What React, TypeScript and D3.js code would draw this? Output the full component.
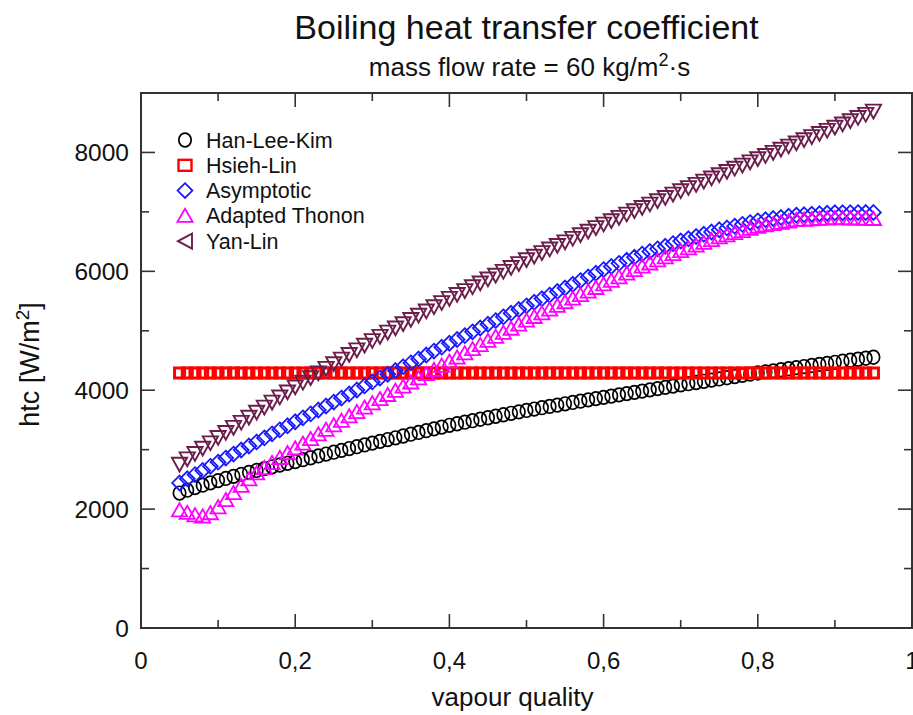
import * as d3 from "d3";

// vapour quality grid (x)
const quality = [
  0.05, 0.06, 0.07, 0.08, 0.09, 0.1, 0.11, 0.12, 0.13, 0.14, 0.15, 0.16, 0.17, 0.18, 0.19,
  0.2, 0.21, 0.22, 0.23, 0.24, 0.25, 0.26, 0.27, 0.28, 0.29, 0.3, 0.31, 0.32, 0.33, 0.34,
  0.35, 0.36, 0.37, 0.38, 0.39, 0.4, 0.41, 0.42, 0.43, 0.44, 0.45, 0.46, 0.47, 0.48, 0.49,
  0.5, 0.51, 0.52, 0.53, 0.54, 0.55, 0.56, 0.57, 0.58, 0.59, 0.6, 0.61, 0.62, 0.63, 0.64,
  0.65, 0.66, 0.67, 0.68, 0.69, 0.7, 0.71, 0.72, 0.73, 0.74, 0.75, 0.76, 0.77, 0.78, 0.79,
  0.8, 0.81, 0.82, 0.83, 0.84, 0.85, 0.86, 0.87, 0.88, 0.89, 0.9, 0.91, 0.92, 0.93, 0.94, 0.95,
];

const hanLeeKim = [
  2270, 2318, 2362, 2403, 2442, 2480, 2516, 2551, 2585, 2618, 2650, 2681, 2712, 2742, 2771,
  2800, 2832, 2864, 2895, 2926, 2957, 2988, 3019, 3050, 3080, 3110, 3140, 3170, 3200, 3230,
  3260, 3290, 3320, 3350, 3380, 3410, 3436, 3462, 3487, 3512, 3537, 3562, 3587, 3612, 3636,
  3660, 3683, 3706, 3728, 3750, 3772, 3794, 3816, 3838, 3859, 3880, 3901, 3922, 3943, 3964,
  3985, 4006, 4027, 4048, 4069, 4090, 4110, 4130, 4150, 4170, 4190, 4210, 4230, 4250, 4270,
  4290, 4308, 4326, 4344, 4362, 4380, 4398, 4416, 4434, 4452, 4470, 4487, 4504, 4521, 4538, 4555,
];

const hsiehLin = [
  4290, 4290, 4290, 4290, 4290, 4290, 4290, 4290, 4290, 4290, 4290, 4290, 4290, 4290, 4290,
  4290, 4290, 4290, 4290, 4290, 4290, 4290, 4290, 4290, 4290, 4290, 4290, 4290, 4290, 4290,
  4290, 4290, 4290, 4290, 4290, 4290, 4290, 4290, 4290, 4290, 4290, 4290, 4290, 4290, 4290,
  4290, 4290, 4290, 4290, 4290, 4290, 4290, 4290, 4290, 4290, 4290, 4290, 4290, 4290, 4290,
  4290, 4290, 4290, 4290, 4290, 4290, 4290, 4290, 4290, 4290, 4290, 4290, 4290, 4290, 4290,
  4290, 4290, 4290, 4290, 4290, 4290, 4290, 4290, 4290, 4290, 4290, 4290, 4290, 4290, 4290, 4290,
];

const asymptotic = [
  2440, 2510, 2580, 2650, 2720, 2790, 2858, 2926, 2994, 3062, 3130, 3198, 3266, 3334, 3402,
  3470, 3536, 3602, 3668, 3734, 3800, 3868, 3936, 4004, 4072, 4140, 4204, 4268, 4332, 4396,
  4460, 4526, 4592, 4658, 4724, 4790, 4854, 4918, 4982, 5046, 5110, 5172, 5234, 5296, 5358,
  5420, 5480, 5540, 5600, 5660, 5720, 5782, 5844, 5906, 5968, 6030, 6082, 6134, 6186, 6238,
  6290, 6334, 6378, 6422, 6466, 6510, 6548, 6586, 6624, 6662, 6700, 6730, 6760, 6790, 6820,
  6850, 6869, 6888, 6907, 6926, 6945, 6953, 6961, 6969, 6977, 6985, 6986, 6987, 6988, 6989, 6990,
];

const adaptedThonon = [
  1980, 1935, 1895, 1875, 1930, 2030, 2150, 2270, 2390, 2500, 2600, 2690, 2775, 2860, 2940,
  3020, 3100, 3178, 3256, 3334, 3410, 3485, 3559, 3633, 3707, 3780, 3850, 3920, 3990, 4060,
  4130, 4200, 4270, 4340, 4410, 4480, 4550, 4620, 4690, 4760, 4830, 4898, 4966, 5034, 5102,
  5170, 5232, 5294, 5356, 5418, 5480, 5540, 5600, 5660, 5720, 5780, 5840, 5900, 5960, 6020,
  6080, 6132, 6184, 6236, 6288, 6340, 6386, 6432, 6478, 6524, 6570, 6606, 6642, 6678, 6714,
  6750, 6772, 6794, 6816, 6838, 6860, 6867, 6874, 6881, 6888, 6895, 6892, 6889, 6886, 6883, 6880,
];

const yanLin = [
  2760, 2850, 2940, 3030, 3120, 3210, 3295, 3380, 3465, 3550, 3635, 3720, 3805, 3890, 3975,
  4060, 4138, 4216, 4294, 4372, 4450, 4528, 4606, 4684, 4762, 4840, 4911, 4982, 5053, 5124,
  5195, 5266, 5337, 5408, 5479, 5550, 5615, 5680, 5745, 5810, 5875, 5940, 6005, 6070, 6135,
  6200, 6260, 6320, 6380, 6440, 6500, 6560, 6620, 6680, 6740, 6800, 6856, 6912, 6968, 7024,
  7080, 7136, 7192, 7248, 7304, 7360, 7414, 7468, 7522, 7576, 7630, 7684, 7738, 7792, 7846,
  7900, 7953, 8006, 8059, 8112, 8165, 8218, 8271, 8324, 8377, 8430, 8484, 8538, 8592, 8646, 8700,
];

const seriesNames = ["Han-Lee-Kim", "Hsieh-Lin", "Asymptotic", "Adapted Thonon", "Yan-Lin"];
const seriesValues = [hanLeeKim, hsiehLin, asymptotic, adaptedThonon, yanLin];

const xMajorTicks = [0, 0.2, 0.4, 0.6, 0.8, 1];
const xTickLabels = ["0", "0,2", "0,4", "0,6", "0,8", "1"];
const xMinorTicks = [0.1, 0.3, 0.5, 0.7, 0.9];
const yMajorTicks = [0, 2000, 4000, 6000, 8000];
const yMinorTicks = [1000, 3000, 5000, 7000];

const FONT = "'Liberation Sans', Arial, Helvetica, sans-serif";
const W = 913, H = 715;
const L = 141, R = 912, T = 93, B = 628;

// marker shapes centred on 0,0
const styles = [
  { color: "#000000", width: 1.7, shape: "circle" },
  { color: "#ff0000", width: 3, shape: "square" },
  { color: "#1a1aff", width: 1.8, shape: "diamond" },
  { color: "#ff00ff", width: 1.8, shape: "up" },
  { color: "#6b1d4c", width: 1.9, shape: "down" },
];

function Marker({ shape, color, width, legend }: { shape: string; color: string; width: number; legend?: boolean }) {
  const common = { fill: "none", stroke: color, strokeWidth: width };
  if (shape === "circle") return <ellipse rx={6.2} ry={6.8} {...common} />;
  if (shape === "square")
    return legend ? <rect x={-6.5} y={-5.5} width={13} height={11} {...common} strokeWidth={2.4} />
      : <rect x={-5} y={-5} width={10} height={10} {...common} />;
  if (shape === "diamond") return <path d="M0,-7.4L7.4,0L0,7.4L-7.4,0Z" {...common} />;
  if (shape === "up") return <path d="M0,-7.2L7.6,6L-7.6,6Z" {...common} />;
  // Yan-Lin: down triangles in the plot, left triangle in the legend
  if (legend) return <path d="M-7,0L7,-7.5L7,7.5Z" {...common} />;
  return <path d="M-7.6,-6.2L7.6,-6.2L0,7.6Z" {...common} />;
}

export default function App() {
  const x = d3.scaleLinear().domain([0, 1]).range([L, R]);
  const y = d3.scaleLinear().domain([0, 9000]).range([B, T]);
  const axisColor = "#333";

  return (
    <svg width={W} height={H} style={{ position: "absolute", left: 0, top: 0, background: "#fff" }} fontFamily={FONT}>
      <rect width={W} height={H} fill="#fff" />
      {/* title */}
      <text x={(L + R) / 2} y={39} textAnchor="middle" fontSize={34} fill="#111">Boiling heat transfer coefficient</text>
      <text x={(L + R) / 2 + 3} y={76} textAnchor="middle" fontSize={26} fill="#111">
        mass flow rate = 60 kg/m<tspan dy={-10} fontSize={18}>2</tspan><tspan dy={10}>·s</tspan>
      </text>

      {/* series */}
      {seriesValues.map((vals, si) => (
        <g key={seriesNames[si]}>
          {vals.map((v, i) => (
            <g key={i} transform={`translate(${x(quality[i])},${y(v)})`}>
              <Marker {...styles[si]} />
            </g>
          ))}
        </g>
      ))}

      {/* frame */}
      <rect x={L} y={T} width={R - L} height={B - T} fill="none" stroke={axisColor} strokeWidth={2} />
      {xMajorTicks.map((t) => (
        <g key={"xM" + t} stroke={axisColor} strokeWidth={1.6}>
          <line x1={x(t)} x2={x(t)} y1={B} y2={B - 14} />
          <line x1={x(t)} x2={x(t)} y1={T} y2={T + 14} />
        </g>
      ))}
      {xMinorTicks.map((t) => (
        <g key={"xm" + t} stroke={axisColor} strokeWidth={1.6}>
          <line x1={x(t)} x2={x(t)} y1={B} y2={B - 8} />
          <line x1={x(t)} x2={x(t)} y1={T} y2={T + 8} />
        </g>
      ))}
      {yMajorTicks.map((t) => (
        <g key={"yM" + t} stroke={axisColor} strokeWidth={1.6}>
          <line x1={L} x2={L + 14} y1={y(t)} y2={y(t)} />
          <line x1={R} x2={R - 14} y1={y(t)} y2={y(t)} />
        </g>
      ))}
      {yMinorTicks.map((t) => (
        <g key={"ym" + t} stroke={axisColor} strokeWidth={1.6}>
          <line x1={L} x2={L + 8} y1={y(t)} y2={y(t)} />
          <line x1={R} x2={R - 8} y1={y(t)} y2={y(t)} />
        </g>
      ))}

      {/* tick labels */}
      {xMajorTicks.map((t, i) => (
        <text key={"xl" + t} x={x(t)} y={669} textAnchor="middle" fontSize={24} fill="#111">{xTickLabels[i]}</text>
      ))}
      {yMajorTicks.map((t) => (
        <text key={"yl" + t} x={129} y={y(t) + 8.5} textAnchor="end" fontSize={24.5} fill="#111">{t}</text>
      ))}

      {/* axis titles */}
      <text x={(L + R) / 2 - 14} y={706} textAnchor="middle" fontSize={26} fill="#111">vapour quality</text>
      <text transform={`translate(39,${(T + B) / 2 + 4})rotate(-90)`} textAnchor="middle" fontSize={27} fill="#111">
        htc [W/m<tspan dy={-10} fontSize={19}>2</tspan><tspan dy={10}>]</tspan>
      </text>

      {/* legend */}
      {seriesNames.map((name, i) => {
        const ly = 140 + i * 25.3;
        return (
          <g key={"lg" + name}>
            <g transform={`translate(185,${ly})`}>
              <Marker {...styles[i]} legend />
            </g>
            <text x={206} y={ly + 7.5} fontSize={21.5} fill="#111">{name}</text>
          </g>
        );
      })}
    </svg>
  );
}
